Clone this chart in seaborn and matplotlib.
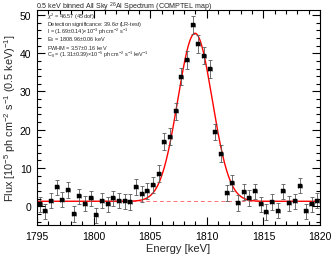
import numpy as np
import pandas as pd
import matplotlib
matplotlib.use("Agg")
import matplotlib.pyplot as plt
import matplotlib.transforms as mtransforms
from matplotlib.collections import LineCollection
import seaborn as sns

# ------------------ Data ------------------
energy = np.arange(1795.25, 1820.0, 0.5)  # 0.5 keV bin centres

flux = [0.5, -1.3, 1.5, 5.0, 1.7, 4.3, -2.0, 2.6, 0.7, 2.1,
        -2.4, 1.5, 0.5, 2.1, 1.5, 1.3, 1.1, 5.0, 3.3, 3.9,
        5.6, 8.5, 16.9, 18.2, 24.8, 33.9, 38.2, 47.4, 42.4, 39.4,
        35.9, 19.4, 13.7, 3.4, 6.1, 0.8, 3.7, 2.2, 3.9, 0.5,
        -1.5, 1.1, -1.1, 3.9, 0.8, 1.3, 5.4, -1.3, 0.5, 1.5]

flux_err = [2.0, 2.0, 2.0, 2.0, 2.0, 2.0, 2.0, 2.0, 2.0, 2.0,
            2.0, 2.0, 2.0, 2.0, 2.0, 2.0, 2.0, 2.1, 2.1, 2.1,
            2.1, 2.2, 2.2, 2.2, 2.3, 2.3, 2.3, 2.4, 2.3, 2.3,
            2.3, 2.2, 2.2, 2.1, 2.1, 2.1, 2.0, 2.0, 2.0, 2.0,
            2.0, 2.0, 2.0, 2.0, 2.0, 2.0, 2.0, 2.0, 2.0, 2.0]

# fit parameters (Gaussian line + constant)
E0 = 1808.96
FWHM = 3.57
C0 = 1.31
PEAK = 43.9

x_major = [1795, 1800, 1805, 1810, 1815, 1820]
y_major = [0, 10, 20, 30, 40, 50]
x_minor = [v for v in range(1795, 1821) if v not in x_major]
y_minor = [v for v in range(-4, 51, 2) if v not in y_major]

info_lines = [
    r"$\chi^2$ = 46.57 (45 dof)",
    r"Detection significance: 39.6$\sigma$ (LR-test)",
    r"I = (1.69$\pm$0.14)$\times$10$^{-3}$ ph cm$^{-2}$ s$^{-1}$",
    r"E$_0$ = 1808.96$\pm$0.06 keV",
    r"FWHM = 3.57$\pm$0.16 keV",
    r"C$_0$ = (1.31$\pm$0.39)$\times$10$^{-5}$ ph cm$^{-2}$ s$^{-1}$ keV$^{-1}$",
]

df = pd.DataFrame({"energy": energy, "flux": flux, "err": flux_err})

e_fine = np.linspace(1795, 1820, 600)
sigma = FWHM / (2 * np.sqrt(2 * np.log(2)))
fit = pd.DataFrame({"energy": e_fine,
                    "model": C0 + PEAK * np.exp(-0.5 * ((e_fine - E0) / sigma) ** 2)})

# ------------------ Plot ------------------
sns.set_style("ticks")
plt.rcParams.update({
    "font.family": ["Liberation Sans", "DejaVu Sans"],
    "mathtext.fontset": "custom",
    "mathtext.rm": "Liberation Sans",
    "mathtext.it": "Liberation Sans:italic",
    "axes.edgecolor": "black", "axes.linewidth": 0.8,
})

fig = plt.figure(figsize=(3.33, 2.55), dpi=100)
ax = fig.add_axes([0.111, 0.112, 0.85, 0.845])

ax.axhline(C0, color="#ff7070", lw=0.7, ls=(0, (4, 3)), zorder=1)
sns.lineplot(data=fit, x="energy", y="model", ax=ax, color="red", lw=1.0, zorder=2)

ax.errorbar(df["energy"], df["flux"], yerr=df["err"], xerr=0.18, fmt="none",
            ecolor="#5a5a5a", elinewidth=0.6, capsize=1.6, capthick=0.6, zorder=3)
sns.scatterplot(data=df, x="energy", y="flux", ax=ax, marker="s", s=7,
                color="black", edgecolor="black", linewidth=0.3, zorder=4)

ax.set_xlim(1795, 1820)
ax.set_ylim(-5, 51.3)
ax.set_xticks(x_major)
ax.set_yticks(y_major)
ax.tick_params(which="both", length=0, labelsize=7.5, pad=4, colors="black")

# IDL-style inward ticks on all four sides
bw, bh = ax.get_position().width * 333, ax.get_position().height * 255
tx = mtransforms.blended_transform_factory(ax.transData, ax.transAxes)
ty = mtransforms.blended_transform_factory(ax.transAxes, ax.transData)
segs_x, segs_y = [], []
for pos, ln in [(x_major, 8.0), (x_minor, 4.0)]:
    f = ln / bh
    for v in pos:
        segs_x += [[(v, 0), (v, f)], [(v, 1), (v, 1 - f)]]
for pos, ln in [(y_major, 8.0), (y_minor, 4.0)]:
    f = ln / bw
    for v in pos:
        segs_y += [[(0, v), (f, v)], [(1, v), (1 - f, v)]]
ax.add_collection(LineCollection(segs_x, colors="black", linewidths=0.8,
                                 transform=tx, zorder=5))
ax.add_collection(LineCollection(segs_y, colors="black", linewidths=0.8,
                                 transform=ty, zorder=5))

ax.set_xlabel("Energy [keV]", fontsize=8, labelpad=1.5)
ax.set_ylabel(r"Flux [10$^{-5}$ ph cm$^{-2}$ s$^{-1}$ (0.5 keV)$^{-1}$]", fontsize=7.8, labelpad=1)

fig.text(0.108, 0.999, r"0.5 keV binned All Sky $^{26}$Al Spectrum (COMPTEL map)",
         fontsize=5.1, va="top", ha="left")

for i, line in enumerate(info_lines):
    ax.text(0.035, 0.972 - i * 0.0355, line, transform=ax.transAxes,
            fontsize=4.0, va="center", ha="left")

fig.savefig("out.png", dpi=100)
